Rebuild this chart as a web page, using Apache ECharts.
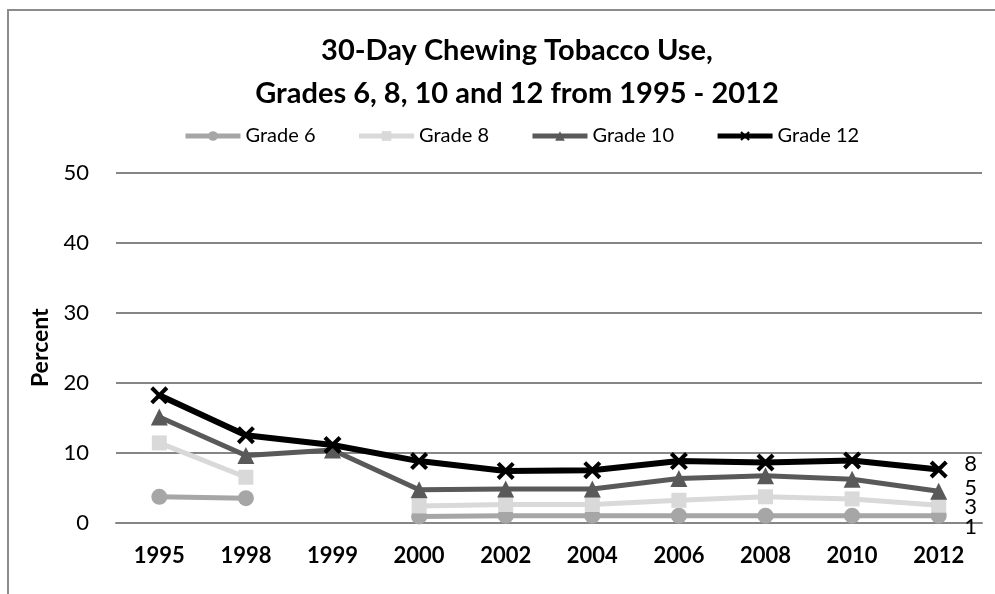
<!DOCTYPE html>
<html>
<head>
<meta charset="utf-8">
<script src="https://cdn.jsdelivr.net/npm/echarts@6/dist/echarts.min.js"></script>
<style>html,body{margin:0;padding:0;background:#fff}#c{width:995px;height:594px}</style>
</head>
<body>
<div id="c"></div>
<script>
const categories = ['1995','1998','1999','2000','2002','2004','2006','2008','2010','2012'];
const grade6  = [3.7, 3.5, null, 0.9, 1.0, 1.0, 1.0, 1.0, 1.0, 1.0];
const grade8  = [11.4, 6.5, null, 2.4, 2.6, 2.6, 3.2, 3.7, 3.4, 2.5];
const grade10 = [15.1, 9.6, 10.4, 4.7, 4.8, 4.8, 6.3, 6.7, 6.2, 4.5];
const grade12 = [18.2, 12.5, 11.1, 8.8, 7.4, 7.5, 8.8, 8.6, 8.9, 7.6];
const seriesNames = ['Grade 6', 'Grade 8', 'Grade 10', 'Grade 12'];
const yTicks = [0, 10, 20, 30, 40, 50];

const FONT = 'Lato, "Liberation Sans", sans-serif';
const crossPath = 'path://M0,1.6 L1.6,0 L5,3.4 L8.4,0 L10,1.6 L6.6,5 L10,8.4 L8.4,10 L5,6.6 L1.6,10 L0,8.4 L3.4,5 Z';

function endLabel(dy) {
  return {
    show: true,
    position: 'inside',
    offset: [32, dy],
    fontFamily: FONT,
    fontSize: 22,
    color: '#000',
    formatter: function (p) {
      return p.dataIndex === categories.length - 1 ? String(Math.round(p.value)) : '';
    }
  };
}

function mkSeries(name, data, color, width, symbol, size, dy) {
  return {
    name: name,
    type: 'line',
    data: data,
    connectNulls: false,
    lineStyle: { color: color, width: width },
    itemStyle: { color: color },
    symbol: symbol,
    symbolSize: size,
    showAllSymbol: true,
    label: endLabel(dy),
    emphasis: { disabled: true },
    animation: false
  };
}

const chart = echarts.init(document.getElementById('c'));
chart.setOption({
  animation: false,
  graphic: [{
    type: 'rect',
    shape: { x: 8, y: 10, width: 1000, height: 600 },
    style: { fill: 'none', stroke: '#8c8c8c', lineWidth: 2 },
    silent: true
  }],
  title: {
    text: '30-Day Chewing Tobacco Use,\nGrades 6, 8, 10 and 12 from 1995 - 2012',
    left: 512,
    textAlign: 'center',
    top: 24,
    textStyle: { fontFamily: FONT, fontWeight: 'bold', fontSize: 29, lineHeight: 43, color: '#000' }
  },
  legend: {
    data: seriesNames,
    left: 183,
    top: 126,
    padding: 0,
    itemWidth: 55,
    itemHeight: 12,
    itemGap: 41,
    lineStyle: { width: 5 },
    textStyle: { fontFamily: FONT, fontSize: 20, color: '#000' }
  },
  grid: { left: 116, right: 13, top: 172.7, bottom: 71.3, containLabel: false },
  xAxis: {
    type: 'category',
    data: categories,
    boundaryGap: true,
    axisLine: { show: true, lineStyle: { color: '#868686', width: 2 } },
    axisTick: { show: false },
    axisLabel: { fontFamily: FONT, fontWeight: 'bold', fontSize: 22, color: '#000', margin: 22, interval: 0 }
  },
  yAxis: {
    type: 'value',
    min: yTicks[0],
    max: yTicks[yTicks.length - 1],
    interval: 10,
    name: 'Percent',
    nameLocation: 'middle',
    nameGap: 64,
    nameRotate: 90,
    nameTextStyle: { fontFamily: FONT, fontWeight: 'bold', fontSize: 23, color: '#000' },
    axisLine: { show: false },
    axisTick: { show: false },
    splitLine: { show: true, lineStyle: { color: '#868686', width: 2 } },
    axisLabel: { fontFamily: FONT, fontSize: 22, color: '#000', margin: 27 }
  },
  series: [
    mkSeries(seriesNames[0], grade6, '#a6a6a6', 5, 'circle', 16, 11),
    mkSeries(seriesNames[1], grade8, '#d9d9d9', 5, 'rect', 15, 2),
    mkSeries(seriesNames[2], grade10, '#595959', 5, 'triangle', 17, -3),
    mkSeries(seriesNames[3], grade12, '#000000', 6, crossPath, 18, -6)
  ]
});
</script>
</body>
</html>
